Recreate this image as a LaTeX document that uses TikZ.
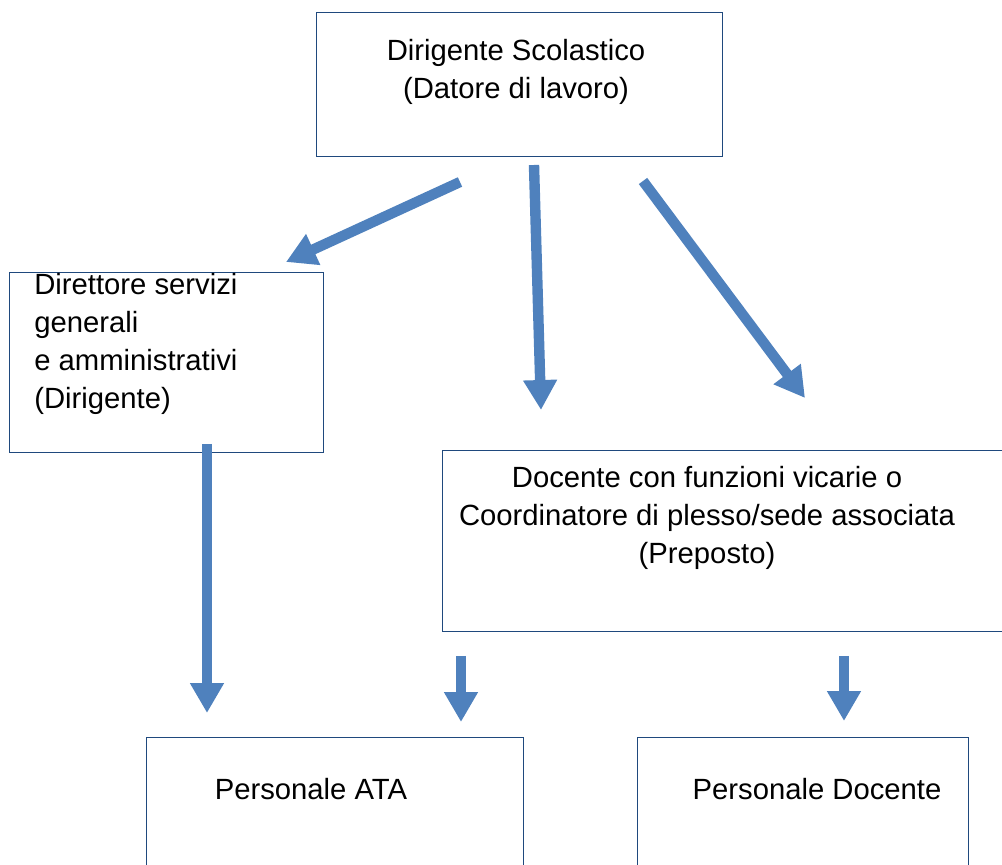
\documentclass[tikz,border=0pt]{standalone}
\usepackage{fontspec}
\setmainfont{Liberation Sans}
\usetikzlibrary{arrows.meta,positioning}
\definecolor{bordo}{RGB}{31,73,125}
\definecolor{freccia}{RGB}{79,129,189}

\begin{document}
\begin{tikzpicture}[x=0.025cm,y=-0.025cm,
    box/.style={draw=bordo,line width=0.7pt,anchor=north west,inner sep=0pt},
    testo/.style={font=\fontsize{20.8}{27}\selectfont,inner sep=0pt,align=center},
    frec/.style={draw=freccia,line width=7.4pt,-{Triangle[width=22.8pt,length=21.3pt]}}]
      \useasboundingbox (0,0) rectangle (1002,865);
      \clip (0,0) rectangle (1002,865);

      \node[box,minimum width=10.15cm,minimum height=3.6cm] (dir) at (316,12) {};
      \node[testo] (tDir) at (516,72) {Dirigente Scolastico\\(Datore di lavoro)};

      \node[box,minimum width=7.85cm,minimum height=4.5cm] (dsga) at (9,272) {};
      \node[testo,align=left,anchor=west] (tDsga) at (34,344) {Direttore servizi\\generali\\e amministrativi\\(Dirigente)};

      \node[box,minimum width=14.2cm,minimum height=4.525cm] (vic) at (442,450) {};
      \node[testo] (tVic) at (707,518) {Docente con funzioni vicarie o\\Coordinatore di plesso/sede associata\\(Preposto)};

      \node[box,minimum width=9.425cm,minimum height=3.5cm] (ata) at (146,737) {};
      \node[testo] (tAta) at (311,789) {Personale ATA};

      \node[box,minimum width=8.275cm,minimum height=3.5cm] (doc) at (637,737) {};
      \node[testo] (tDoc) at (817,789) {Personale Docente};

      \coordinate (a1s) at (460,182); \coordinate (a1e) at (286,262);
      \coordinate (a2s) at (534,165); \coordinate (a2e) at (541,410);
      \coordinate (a3s) at (643,181); \coordinate (a3e) at (805,398);
      \coordinate (a4s) at (207,444); \coordinate (a4e) at (207,713);
      \coordinate (a5s) at (461,656); \coordinate (a5e) at (461,722);
      \coordinate (a6s) at (844,656); \coordinate (a6e) at (844,721);

      \foreach \from/\to in {a1s/a1e,a2s/a2e,a3s/a3e,a4s/a4e,a5s/a5e,a6s/a6e}
      \draw[frec] (\from)--(\to);
  \end{tikzpicture}
\end{document}
